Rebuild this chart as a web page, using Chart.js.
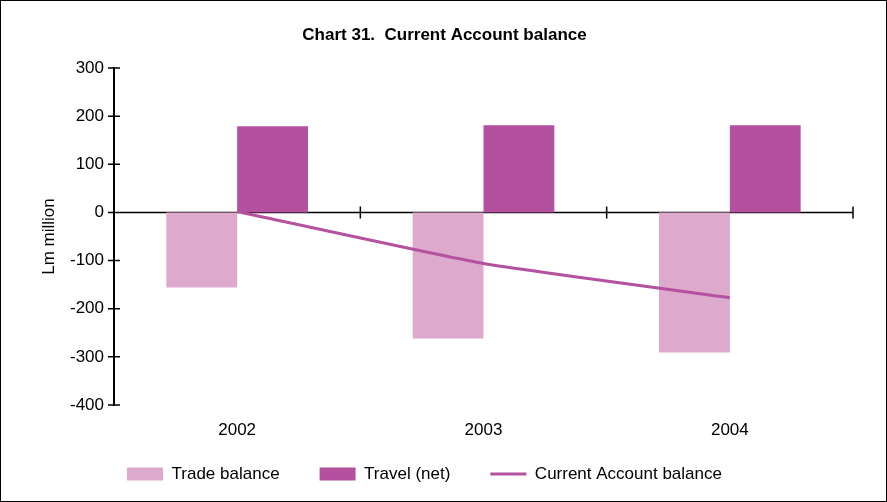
<!DOCTYPE html>
<html>
<head>
<meta charset="utf-8">
<script src="https://cdn.jsdelivr.net/npm/chart.js@4/dist/chart.umd.min.js"></script>
<style>
  html, body { margin: 0; padding: 0; background: #fff; }
  #wrap { position: relative; width: 885px; height: 500px; border: 1px solid #000; }
</style>
</head>
<body>
<div id="wrap"><canvas id="currentAccountChart"></canvas></div>
<script>
// Chart 31 data (Lm million)
const years = ['2002', '2003', '2004'];
const tradeBalance = [-156, -262, -291];
const travelNet = [179, 181, 181];
const currentAccount = [2, -106, -177];
const yTicks = [300, 200, 100, 0, -100, -200, -300, -400];

const TRADE_COLOR = '#dda9cd';
const TRAVEL_COLOR = '#b4519e';
const LINE_COLOR = '#b5529f';

Chart.defaults.font.family = '"Liberation Sans", Arial, sans-serif';
Chart.defaults.color = '#000';

// zero axis line with tick marks + crossing ticks on the value axis
const axisLines = {
    id: 'axisLines',
    afterLayout(chart) {
        // legend sits a bit left of centre in the original
        chart.legend.left -= 40;
    },
    beforeDatasetsDraw(chart) {
        const { ctx, scales: { x, y }, chartArea } = chart;
        const y0 = y.getPixelForValue(0);
        ctx.save();
        ctx.strokeStyle = '#000';
        ctx.lineWidth = 1.5;
        ctx.beginPath();
        ctx.moveTo(chartArea.left, y0);
        ctx.lineTo(chartArea.right, y0);
        const w = (chartArea.right - chartArea.left) / years.length;
        for (let i = 0; i <= years.length; i++) {
            const px = chartArea.left + i * w;
            ctx.moveTo(px, y0 - 6);
            ctx.lineTo(px, y0 + 6);
        }
        yTicks.forEach(v => {
            const py = y.getPixelForValue(v);
            ctx.moveTo(chartArea.left - 6, py);
            ctx.lineTo(chartArea.left + 6, py);
        });
        ctx.stroke();
        ctx.restore();
    }
};

function renderCurrentAccountChart() {
    const ctx = document.getElementById('currentAccountChart').getContext('2d');

    new Chart(ctx, {
        type: 'bar',
        data: {
            labels: years,
            datasets: [
                {
                    label: 'Trade balance',
                    data: tradeBalance,
                    backgroundColor: TRADE_COLOR,
                    categoryPercentage: 0.575,
                    barPercentage: 1.0,
                    order: 1
                },
                {
                    label: 'Travel (net)',
                    data: travelNet,
                    backgroundColor: TRAVEL_COLOR,
                    categoryPercentage: 0.575,
                    barPercentage: 1.0,
                    order: 1
                },
                {
                    type: 'line',
                    label: 'Current Account balance',
                    data: currentAccount,
                    borderColor: LINE_COLOR,
                    backgroundColor: LINE_COLOR,
                    borderWidth: 3,
                    pointRadius: 0,
                    tension: 0.15,
                    order: 0
                }
            ]
        },
        options: {
            responsive: true,
            maintainAspectRatio: false,
            animation: false,
            layout: {
                padding: { top: 10, left: 35, right: 33, bottom: 8.5 }
            },
            plugins: {
                tooltip: { enabled: false },
                title: {
                    display: true,
                    text: 'Chart 31.  Current Account balance',
                    font: { size: 17, weight: 'bold' },
                    padding: { top: 14, bottom: 22.6 }
                },
                legend: {
                    position: 'bottom',
                    labels: {
                        font: { size: 17 },
                        usePointStyle: true,
                        pointStyleWidth: 36,
                        boxHeight: 13,
                        padding: 40,
                        generateLabels: () => [
                            { text: 'Trade balance', fillStyle: TRADE_COLOR, strokeStyle: TRADE_COLOR, lineWidth: 0, pointStyle: 'rect', datasetIndex: 0 },
                            { text: 'Travel (net)', fillStyle: TRAVEL_COLOR, strokeStyle: TRAVEL_COLOR, lineWidth: 0, pointStyle: 'rect', datasetIndex: 1 },
                            { text: 'Current Account balance', fillStyle: LINE_COLOR, strokeStyle: LINE_COLOR, lineWidth: 3, pointStyle: 'line', datasetIndex: 2 }
                        ]
                    }
                }
            },
            scales: {
                x: {
                    afterFit: s => {
                        s.height = 20.5;
                        s._computeLabelArea = () => undefined; // don't clip labels to the short box
                    },
                    grid: { display: false },
                    border: { display: false },
                    ticks: { font: { size: 17 }, padding: 7 }
                },
                y: {
                    min: -400,
                    max: 300,
                    afterFit: s => { s.width = 78; },
                    grid: { display: false, drawTicks: false },
                    border: { display: true, color: '#000', width: 2 },
                    ticks: {
                        stepSize: 100,
                        font: { size: 17 },
                        padding: 10
                    },
                    title: {
                        display: true,
                        text: 'Lm million',
                        font: { size: 17 },
                        padding: { top: 3, bottom: 0 }
                    }
                }
            }
        },
        plugins: [axisLines]
    });
}

document.addEventListener('DOMContentLoaded', () => {
    renderCurrentAccountChart();
});
</script>
</body>
</html>
